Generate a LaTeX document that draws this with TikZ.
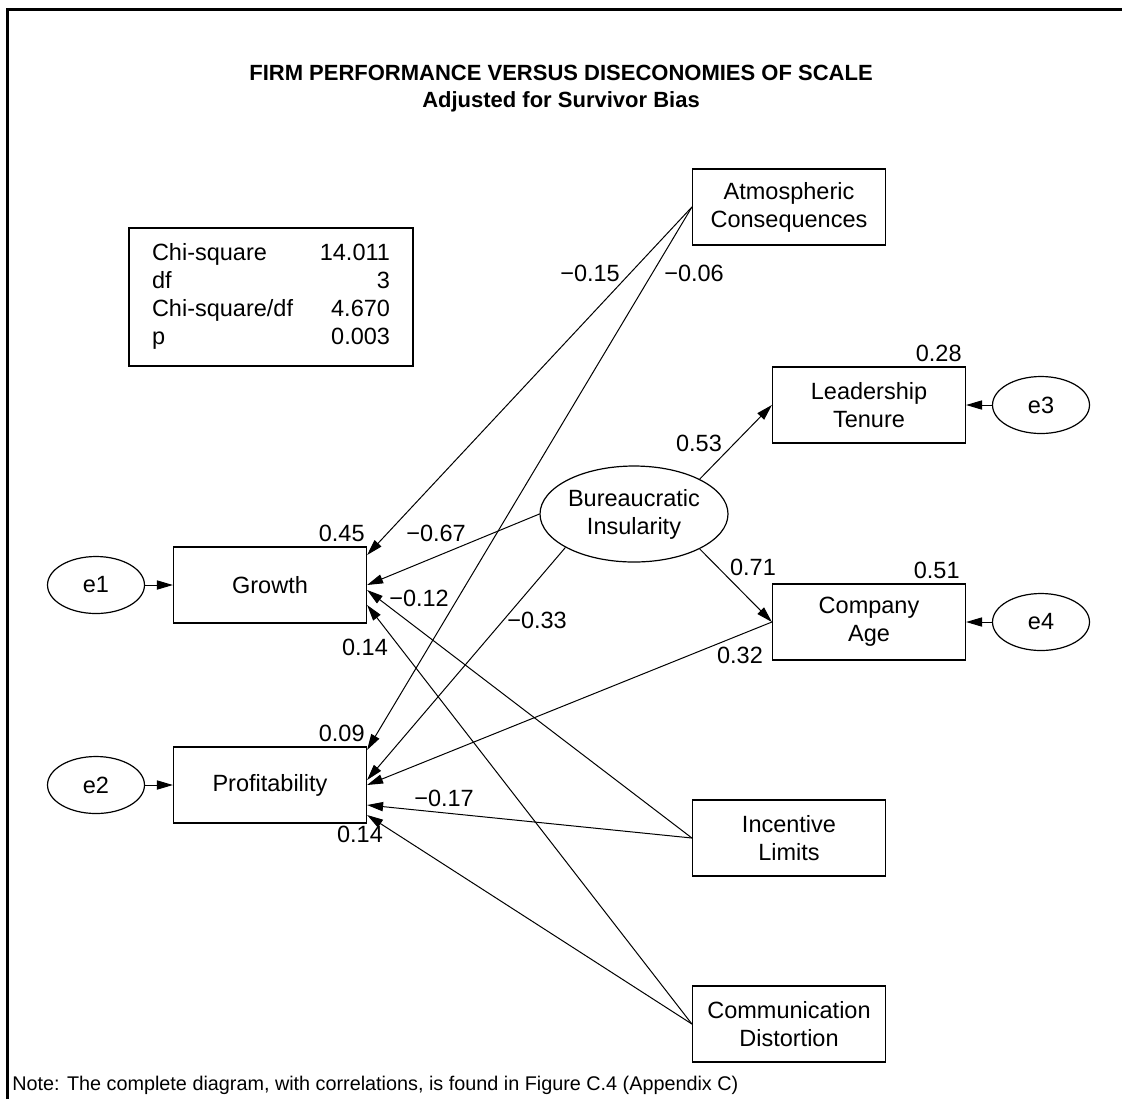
\documentclass[tikz,border=0pt]{standalone}
\usepackage{fontspec}
\setmainfont{Liberation Sans}
\usetikzlibrary{arrows.meta,calc,shapes.geometric}

\begin{document}
\begin{tikzpicture}[
  x=0.5pt, y=-0.5pt,
  font=\fontsize{11.75}{14}\selectfont,
  box/.style={draw, line width=0.6pt, minimum width=96.5pt, minimum height=38pt, inner sep=0pt, align=center},
  latent/.style={draw, ellipse, line width=0.6pt, minimum width=94pt, minimum height=48pt, inner sep=0pt, align=center},
  err/.style={draw, ellipse, line width=0.6pt, minimum width=48.5pt, minimum height=28.5pt, inner sep=0pt},
  reg/.style={-{Triangle[length=8pt,width=4.6pt]}, line width=0.5pt},
  coef/.style={inner sep=0pt}
]
\useasboundingbox (0,0) rectangle (1122,1099);
\draw[line width=1.5pt] (7.5,1099) -- (7.5,9.5) -- (1122,9.5);

\node[font=\bfseries\fontsize{11}{13.5}\selectfont, align=center] (title) at (561,88.5)
  {FIRM PERFORMANCE VERSUS DISECONOMIES OF SCALE\\Adjusted for Survivor Bias};

% fit statistics
\node[draw, line width=0.6pt, minimum width=142pt, minimum height=69pt, inner sep=0pt] (fitstats) at (271,297)
  {\begin{tabular*}{119pt}{@{}l@{\extracolsep{\fill}}r@{}}
    Chi-square & 14.011\\
    df & 3\\
    Chi-square/df & 4.670\\
    p & 0.003
  \end{tabular*}};

% observed variables
\node[box] (atm) at (789,207) {Atmospheric\\Consequences};
\node[box] (lead) at (869,405) {Leadership\\Tenure};
\node[box] (age) at (869,622) {Company\\Age};
\node[box] (inc) at (789,838) {Incentive\\Limits};
\node[box] (comm) at (789,1024) {Communication\\Distortion};
\node[box] (growth) at (270,585) {Growth};
\node[box] (prof) at (270,785) {Profitability};

% latent and errors
\node[latent] (bur) at (634,514) {Bureaucratic\\Insularity};
\node[err] (e1) at (96,585) {e1};
\node[err] (e2) at (96,785) {e2};
\node[err] (e3) at (1041,405) {e3};
\node[err] (e4) at (1041,622) {e4};

\draw[reg] (e1.east) -- (growth.west);
\draw[reg] (e2.east) -- (prof.west);
\draw[reg] (e3.west) -- (lead.east);
\draw[reg] (e4.west) -- (age.east);
\draw[reg] (bur.28) -- (lead.west);
\draw[reg] (bur.-28) -- (age.west);
\draw[reg] (atm.west) -- ($(growth.east)+(0,-30)$);
\draw[reg] (atm.west) -- ($(prof.east)+(0,-35)$);
\draw[reg] (bur.west) -- (growth.east);
\draw[reg] (bur.206) -- ($(prof.east)+(0,-5)$);
\draw[reg] (age.west) -- (prof.east);
\draw[reg] (inc.west) -- ($(growth.east)+(0,5)$);
\draw[reg] (inc.west) -- ($(prof.east)+(0,20)$);
\draw[reg] (comm.west) -- ($(growth.east)+(0,20)$);
\draw[reg] (comm.west) -- ($(prof.east)+(0,30)$);

% squared multiple correlations
\node[coef, anchor=east] (rgrowth) at (365,533) {0.45};
\node[coef, anchor=east] (rprof) at (365,733) {0.09};
\node[coef, anchor=east] (rlead) at (962,353) {0.28};
\node[coef, anchor=east] (rage) at (960,570) {0.51};

% path coefficients
\node[coef] (cag) at (590,273) {−0.15};
\node[coef] (cap) at (694,273) {−0.06};
\node[coef] (cbl) at (699,443) {0.53};
\node[coef] (cba) at (753,567) {0.71};
\node[coef] (cbg) at (436,533) {−0.67};
\node[coef] (cig) at (419,598) {−0.12};
\node[coef] (cbp) at (537,620) {−0.33};
\node[coef] (ccg) at (365,647) {0.14};
\node[coef] (cap2) at (740,655) {0.32};
\node[coef] (cip) at (444,798) {−0.17};
\node[coef] (ccp) at (360,834) {0.14};

\node[anchor=west, inner sep=0pt, font=\fontsize{9.9}{12}\selectfont] (note) at (12,1085)
  {Note: The complete diagram, with correlations, is found in Figure C.4 (Appendix C)};
\end{tikzpicture}
\end{document}
